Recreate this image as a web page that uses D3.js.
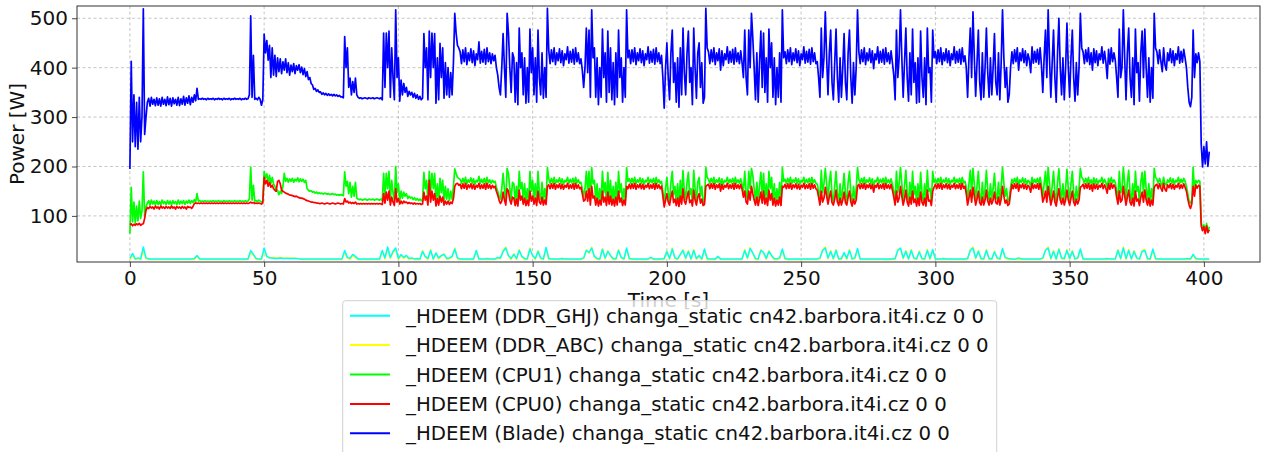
<!DOCTYPE html>
<html>
<head>
<meta charset="utf-8">
<script src="https://cdn.jsdelivr.net/npm/d3@7/dist/d3.min.js"></script>
<style>
body { margin: 0; background: #fff; }
text { font-family: "DejaVu Sans", sans-serif; }
</style>
</head>
<body>
<script>
// HDEEM power readings. blade / cpu sampled every 0.5 s, ddr every 1 s, all from t = 0 s
var bladeStep = 0.5;
var ddrStep = 1;

// each row = 10 s
var blade = [
  195, 413, 250, 345, 240, 330, 235, 340, 250, 300, 519, 265, 300, 330, 338, 322, 340, 326, 336, 323,
  339, 324, 337, 322, 340, 326, 336, 323, 341, 325, 338, 322, 339, 327, 336, 324, 340, 323, 337, 326,
  342, 324, 339, 328, 343, 325, 340, 330, 345, 333, 358, 336, 337, 336, 338, 336, 337, 335, 338, 336,
  337, 336, 338, 335, 337, 336, 338, 336, 337, 335, 338, 336, 337, 336, 338, 335, 337, 336, 338, 336,
  337, 336, 338, 335, 337, 336, 338, 336, 337, 345, 505, 340, 425, 336, 338, 335, 340, 336, 324, 335,
  468, 430, 455, 415, 445, 380, 440, 385, 425, 382, 420, 392, 418, 388, 412, 395, 418, 390, 410, 385,
  405, 392, 408, 388, 404, 395, 406, 390, 401, 386, 398, 382, 392, 376, 380, 368, 365, 356, 358, 352,
  355, 350, 351, 346, 349, 345, 348, 344, 347, 344, 346, 343, 346, 343, 345, 342, 344, 341, 341, 339,
  463, 400, 440, 360, 379, 345, 372, 350, 379, 345, 340, 338, 339, 337, 338, 339, 338, 337, 339, 338,
  338, 339, 337, 338, 339, 338, 337, 339, 335, 470, 360, 470, 400, 474, 340, 440, 380, 335, 517, 380,
  420, 332, 375, 345, 368, 350, 360, 342, 352, 345, 350, 340, 348, 338, 345, 336, 342, 335, 338, 469,
  400, 440, 335, 474, 380, 470, 400, 469, 328, 420, 335, 449, 380, 440, 338, 410, 345, 400, 340, 390,
  345, 410, 510, 470, 445, 440, 432, 408, 436, 412, 440, 406, 430, 414, 438, 410, 434, 404, 428, 416,
  452, 409, 433, 411, 437, 407, 440, 412, 430, 408, 428, 414, 425, 400, 385, 360, 345, 400, 469, 400,
  340, 510, 470, 400, 350, 430, 420, 330, 410, 325, 480, 400, 430, 345, 420, 328, 400, 330, 478, 390,
  440, 345, 420, 330, 476, 380, 345, 430, 338, 400, 340, 520, 435, 408, 436, 412, 440, 406, 430, 414,
  438, 410, 434, 404, 428, 416, 442, 409, 433, 411, 437, 407, 440, 412, 430, 408, 418, 395, 360, 400,
  480, 390, 476, 340, 517, 420, 440, 340, 420, 325, 400, 340, 478, 380, 430, 330, 474, 350, 440, 335,
  410, 325, 430, 340, 476, 380, 420, 330, 400, 340, 517, 420, 435, 408, 436, 412, 440, 406, 430, 414,
  438, 410, 434, 404, 428, 416, 442, 409, 433, 411, 437, 407, 440, 412, 430, 408, 425, 380, 318, 400,
  450, 380, 335, 430, 476, 370, 410, 330, 420, 320, 440, 345, 480, 390, 345, 430, 474, 370, 400, 325,
  480, 400, 338, 430, 450, 360, 410, 328, 340, 520, 440, 432, 408, 436, 412, 440, 406, 430, 414, 438,
  395, 434, 404, 428, 416, 442, 409, 433, 411, 437, 407, 440, 412, 430, 408, 434, 410, 380, 476, 380,
  345, 476, 400, 510, 460, 400, 335, 430, 330, 410, 474, 360, 470, 350, 420, 330, 478, 400, 450, 340,
  420, 325, 400, 340, 430, 330, 517, 420, 432, 408, 436, 412, 440, 406, 430, 414, 438, 410, 434, 404,
  428, 416, 442, 409, 433, 411, 437, 407, 440, 412, 430, 408, 412, 380, 340, 480, 380, 420, 513, 420,
  345, 430, 476, 370, 335, 410, 478, 380, 330, 420, 340, 400, 469, 370, 335, 430, 476, 380, 328, 410,
  345, 400, 517, 432, 408, 436, 412, 440, 406, 430, 414, 438, 410, 434, 398, 428, 416, 442, 409, 433,
  411, 437, 407, 440, 412, 430, 408, 434, 410, 385, 335, 476, 380, 420, 517, 420, 340, 410, 480, 380,
  332, 430, 345, 478, 370, 410, 328, 420, 330, 474, 380, 340, 420, 325, 480, 390, 400, 330, 476, 420,
  432, 408, 436, 412, 440, 406, 430, 414, 438, 410, 434, 404, 428, 416, 442, 409, 433, 411, 437, 407,
  440, 412, 424, 400, 340, 420, 480, 380, 513, 420, 342, 410, 476, 370, 335, 430, 340, 400, 480, 390,
  340, 420, 345, 400, 469, 370, 345, 430, 335, 410, 517, 420, 360, 400, 330, 345, 400, 432, 408, 436,
  412, 440, 395, 430, 414, 438, 410, 434, 404, 428, 416, 390, 442, 409, 433, 411, 437, 407, 440, 405,
  350, 420, 476, 380, 517, 420, 340, 410, 476, 380, 330, 430, 500, 400, 345, 420, 335, 400, 490, 400,
  340, 420, 476, 380, 332, 410, 345, 400, 510, 440, 432, 408, 436, 412, 440, 406, 430, 395, 438, 410,
  434, 404, 428, 416, 442, 409, 433, 411, 378, 437, 407, 440, 412, 430, 415, 380, 340, 478, 380, 400,
  517, 420, 335, 430, 480, 380, 340, 420, 325, 478, 390, 410, 332, 430, 474, 380, 478, 400, 340, 420,
  330, 400, 338, 510, 440, 432, 408, 436, 412, 392, 440, 406, 395, 430, 414, 438, 410, 434, 404, 428,
  416, 442, 409, 433, 411, 437, 420, 400, 360, 330, 321, 340, 476, 380, 428, 410, 430, 412, 246, 199,
  240, 205, 250, 200, 230
];

var cpu1 = [
  64, 158, 88, 128, 85, 120, 90, 130, 95, 110, 189, 100, 118, 126, 131, 122, 132, 124, 130, 122,
  131, 123, 129, 122, 132, 125, 129, 123, 131, 124, 130, 122, 131, 125, 129, 123, 132, 124, 130, 125,
  131, 123, 130, 126, 132, 125, 131, 127, 133, 128, 145, 130, 131, 129, 130, 129, 131, 129, 130, 129,
  130, 129, 131, 129, 130, 129, 131, 129, 130, 128, 131, 129, 130, 129, 131, 129, 130, 129, 131, 129,
  130, 129, 131, 129, 130, 129, 131, 129, 130, 135, 199, 132, 162, 130, 131, 129, 132, 130, 128, 130,
  190, 176, 185, 168, 182, 166, 178, 165, 160, 150, 152, 143, 150, 145, 160, 186, 170, 176, 168, 175,
  170, 176, 168, 174, 171, 177, 169, 175, 170, 174, 168, 172, 155, 152, 150, 151, 148, 149, 146, 148,
  145, 147, 145, 146, 144, 146, 145, 144, 145, 143, 144, 145, 143, 144, 142, 143, 142, 143, 142, 141,
  189, 160, 170, 145, 168, 138, 160, 140, 168, 136, 134, 133, 134, 132, 133, 134, 133, 132, 134, 133,
  133, 134, 132, 133, 134, 133, 132, 134, 131, 186, 140, 186, 155, 190, 131, 172, 147, 130, 200, 147,
  165, 130, 150, 136, 148, 140, 145, 135, 140, 136, 138, 133, 137, 132, 135, 131, 134, 131, 132, 188,
  155, 172, 130, 190, 147, 186, 155, 186, 127, 165, 130, 176, 147, 172, 130, 160, 134, 155, 131, 150,
  134, 160, 195, 186, 178, 176, 174, 166, 176, 167, 178, 165, 173, 168, 177, 166, 175, 164, 172, 169,
  180, 166, 174, 167, 176, 165, 178, 167, 173, 166, 172, 168, 170, 158, 150, 140, 134, 155, 186, 155,
  131, 196, 186, 155, 134, 168, 165, 128, 160, 126, 190, 155, 168, 134, 165, 127, 155, 128, 190, 150,
  172, 134, 165, 128, 190, 147, 134, 168, 130, 155, 131, 198, 175, 166, 176, 167, 178, 165, 173, 168,
  177, 166, 175, 164, 172, 169, 178, 166, 174, 167, 176, 165, 178, 167, 173, 166, 168, 155, 140, 155,
  190, 150, 190, 131, 198, 165, 172, 131, 165, 126, 155, 131, 190, 147, 168, 128, 188, 134, 172, 130,
  160, 126, 168, 131, 190, 147, 165, 128, 155, 131, 198, 170, 175, 166, 176, 167, 178, 165, 173, 168,
  177, 166, 175, 164, 172, 169, 178, 166, 174, 167, 176, 165, 178, 167, 173, 166, 170, 150, 124, 155,
  178, 147, 130, 168, 190, 143, 160, 128, 165, 124, 172, 134, 192, 150, 134, 168, 188, 143, 155, 126,
  192, 155, 130, 168, 178, 140, 160, 127, 131, 198, 178, 174, 166, 176, 167, 178, 165, 173, 168, 177,
  162, 175, 164, 172, 169, 178, 166, 174, 167, 176, 165, 178, 167, 173, 166, 175, 164, 150, 190, 147,
  134, 190, 155, 196, 182, 155, 130, 168, 128, 160, 188, 140, 186, 134, 165, 128, 190, 155, 178, 131,
  165, 126, 155, 131, 168, 128, 198, 170, 174, 166, 176, 167, 178, 165, 173, 168, 177, 166, 175, 164,
  172, 169, 178, 166, 174, 167, 176, 165, 178, 167, 173, 166, 164, 150, 131, 192, 147, 165, 196, 165,
  134, 168, 190, 143, 130, 160, 190, 147, 128, 165, 131, 155, 186, 143, 130, 168, 190, 147, 127, 160,
  134, 155, 198, 174, 166, 176, 167, 178, 165, 173, 168, 177, 166, 175, 160, 172, 169, 178, 166, 174,
  167, 176, 165, 178, 167, 173, 166, 175, 164, 150, 130, 190, 147, 165, 198, 165, 131, 160, 192, 147,
  128, 168, 134, 190, 143, 160, 127, 165, 128, 188, 147, 131, 165, 126, 192, 150, 155, 128, 190, 168,
  174, 166, 176, 167, 178, 165, 173, 168, 177, 166, 175, 164, 172, 169, 178, 166, 174, 167, 176, 165,
  178, 167, 170, 158, 131, 165, 192, 147, 196, 165, 131, 160, 190, 143, 130, 168, 131, 155, 192, 150,
  131, 165, 134, 155, 186, 143, 134, 168, 130, 160, 198, 165, 140, 155, 128, 134, 158, 174, 166, 176,
  167, 178, 162, 173, 168, 177, 166, 175, 164, 172, 169, 160, 178, 166, 174, 167, 176, 165, 178, 164,
  138, 165, 190, 147, 198, 165, 131, 160, 190, 147, 128, 168, 195, 155, 134, 165, 130, 155, 194, 155,
  131, 165, 190, 147, 128, 160, 134, 155, 196, 178, 174, 166, 176, 167, 178, 165, 173, 162, 177, 166,
  175, 164, 172, 169, 178, 166, 174, 167, 158, 176, 165, 178, 167, 173, 168, 150, 131, 190, 147, 155,
  198, 165, 130, 168, 192, 147, 131, 165, 126, 190, 150, 160, 128, 168, 188, 147, 190, 155, 131, 165,
  128, 155, 130, 196, 178, 174, 166, 176, 167, 160, 178, 165, 162, 173, 168, 177, 166, 175, 164, 172,
  169, 178, 166, 174, 167, 176, 170, 160, 145, 130, 125, 133, 199, 150, 172, 167, 172, 170, 88, 72,
  82, 66, 85, 68, 78
];

var cpu0 = [
  82, 84, 80, 83, 81, 84, 82, 85, 81, 83, 84, 95, 112, 117, 115, 119, 116, 118, 114, 120,
  116, 118, 114, 120, 116, 118, 115, 119, 116, 118, 115, 120, 116, 118, 114, 119, 116, 118, 115, 119,
  116, 118, 114, 119, 117, 118, 115, 119, 125, 126, 125, 126, 125, 126, 125, 126, 125, 126, 125, 126,
  125, 126, 125, 126, 125, 126, 125, 126, 125, 126, 125, 126, 125, 126, 125, 126, 125, 126, 125, 126,
  125, 126, 125, 126, 125, 126, 125, 126, 125, 126, 128, 126, 127, 125, 126, 125, 126, 125, 124, 126,
  178, 165, 172, 160, 168, 158, 162, 155, 152, 150, 170, 172, 165, 152, 150, 148, 146, 145, 144, 142,
  142, 141, 140, 139, 140, 138, 137, 136, 136, 135, 134, 132, 131, 130, 129, 128, 128, 127, 127, 126,
  126, 125, 125, 126, 125, 124, 125, 126, 125, 124, 125, 126, 125, 124, 125, 126, 125, 124, 125, 124,
  135, 128, 130, 126, 128, 125, 127, 125, 128, 124, 125, 124, 125, 124, 125, 124, 125, 124, 125, 124,
  125, 124, 125, 124, 125, 124, 125, 124, 123, 145, 126, 148, 132, 150, 122, 138, 128, 121, 155, 128,
  135, 124, 130, 125, 130, 127, 128, 125, 127, 125, 126, 124, 126, 124, 125, 124, 125, 123, 124, 148,
  132, 140, 122, 172, 128, 150, 132, 145, 120, 135, 122, 140, 128, 138, 122, 130, 124, 130, 123, 128,
  125, 135, 160, 165, 166, 162, 164, 155, 165, 156, 166, 154, 163, 157, 165, 155, 164, 154, 162, 158,
  166, 155, 163, 156, 165, 154, 166, 156, 163, 155, 162, 157, 160, 150, 142, 132, 125, 130, 148, 132,
  122, 155, 150, 132, 124, 138, 136, 121, 134, 120, 152, 132, 140, 124, 136, 121, 132, 121, 150, 130,
  140, 124, 136, 121, 150, 128, 124, 138, 122, 132, 123, 160, 163, 155, 165, 156, 166, 154, 163, 157,
  165, 155, 164, 154, 162, 158, 166, 155, 163, 156, 165, 154, 166, 156, 163, 155, 158, 145, 130, 132,
  150, 130, 155, 122, 160, 136, 140, 122, 136, 120, 132, 122, 150, 128, 138, 121, 148, 124, 140, 122,
  134, 120, 138, 122, 150, 128, 136, 121, 132, 122, 160, 155, 164, 155, 165, 156, 166, 154, 163, 157,
  165, 155, 164, 154, 162, 158, 166, 155, 163, 156, 165, 154, 166, 156, 163, 155, 160, 140, 118, 132,
  145, 128, 122, 138, 150, 127, 134, 121, 136, 119, 140, 124, 155, 130, 124, 138, 150, 127, 132, 120,
  152, 132, 122, 138, 145, 126, 134, 121, 123, 160, 162, 164, 155, 165, 156, 166, 154, 163, 157, 165,
  150, 164, 154, 162, 158, 166, 155, 163, 156, 165, 154, 166, 156, 163, 155, 164, 154, 138, 150, 128,
  124, 150, 132, 160, 145, 132, 122, 138, 121, 134, 148, 126, 150, 124, 136, 121, 152, 132, 145, 122,
  136, 120, 132, 122, 138, 121, 160, 158, 164, 155, 165, 156, 166, 154, 163, 157, 165, 155, 164, 154,
  162, 158, 166, 155, 163, 156, 165, 154, 166, 156, 163, 155, 152, 138, 122, 150, 128, 136, 158, 140,
  124, 138, 150, 127, 122, 134, 152, 128, 121, 136, 122, 132, 148, 127, 122, 138, 150, 128, 120, 134,
  124, 132, 160, 164, 155, 165, 156, 166, 154, 163, 157, 165, 155, 164, 148, 162, 158, 166, 155, 163,
  156, 165, 154, 166, 156, 163, 155, 164, 152, 138, 122, 150, 128, 136, 160, 140, 122, 134, 152, 128,
  120, 138, 124, 150, 127, 134, 120, 136, 121, 148, 128, 122, 136, 120, 152, 130, 132, 121, 150, 158,
  164, 155, 165, 156, 166, 154, 163, 157, 165, 155, 164, 154, 162, 158, 166, 155, 163, 156, 165, 154,
  166, 156, 160, 145, 122, 136, 152, 128, 158, 140, 122, 134, 150, 127, 122, 138, 122, 132, 152, 130,
  122, 136, 124, 132, 148, 127, 124, 138, 122, 134, 160, 140, 126, 132, 121, 124, 146, 164, 155, 165,
  156, 166, 150, 163, 157, 165, 155, 164, 154, 162, 158, 148, 166, 155, 163, 156, 165, 154, 166, 152,
  128, 136, 150, 128, 160, 140, 122, 134, 150, 128, 120, 138, 155, 132, 124, 136, 122, 132, 152, 132,
  122, 136, 150, 128, 121, 134, 124, 132, 158, 160, 164, 155, 165, 156, 166, 154, 163, 150, 165, 155,
  164, 154, 162, 158, 166, 155, 163, 156, 146, 165, 154, 166, 156, 163, 157, 138, 124, 150, 128, 132,
  160, 140, 122, 138, 152, 128, 122, 136, 120, 150, 130, 134, 121, 138, 148, 128, 152, 132, 122, 136,
  120, 132, 122, 158, 162, 164, 155, 165, 156, 150, 166, 154, 150, 163, 157, 165, 155, 164, 154, 162,
  158, 166, 155, 163, 156, 165, 158, 150, 135, 122, 115, 124, 160, 140, 163, 156, 162, 160, 80, 70,
  78, 64, 80, 66, 72
];

var ddrGHJ = [
  14, 24, 13, 15, 13, 37, 15, 13, 13, 13,
  13, 13, 13, 13, 13, 13, 13, 13, 13, 13,
  13, 13, 13, 13, 14, 20, 13, 13, 13, 13,
  13, 13, 13, 13, 13, 13, 13, 13, 13, 13,
  13, 13, 13, 13, 13, 30, 22, 14, 13, 13,
  35, 18, 15, 15, 14, 14, 15, 14, 14, 14,
  14, 14, 14, 13, 13, 13, 13, 13, 13, 13,
  13, 13, 13, 13, 13, 13, 13, 13, 13, 13,
  30, 16, 14, 22, 18, 13, 13, 13, 13, 13,
  13, 13, 13, 13, 30, 15, 37, 16, 28, 35,
  14, 22, 16, 20, 14, 15, 13, 14, 13, 28,
  18, 14, 30, 13, 25, 15, 20, 22, 14, 15,
  18, 33, 15, 13, 13, 13, 13, 13, 13, 30,
  13, 13, 13, 14, 13, 13, 13, 16, 15, 28,
  35, 20, 14, 22, 14, 30, 18, 14, 13, 33,
  20, 14, 28, 15, 13, 36, 14, 13, 13, 13,
  13, 14, 13, 13, 13, 13, 13, 13, 13, 15,
  30, 26, 35, 18, 14, 13, 32, 15, 28, 20,
  14, 13, 30, 16, 13, 35, 14, 13, 13, 13,
  13, 13, 13, 13, 16, 13, 13, 13, 13, 14,
  28, 14, 33, 15, 13, 22, 30, 15, 28, 13,
  30, 14, 20, 13, 33, 14, 13, 13, 13, 18,
  13, 13, 13, 13, 13, 13, 13, 13, 13, 30,
  15, 34, 25, 14, 13, 30, 26, 14, 28, 20,
  14, 13, 15, 33, 14, 13, 13, 13, 13, 13,
  13, 13, 13, 13, 13, 13, 13, 15, 30, 35,
  15, 28, 14, 30, 13, 14, 26, 14, 30, 13,
  15, 34, 13, 13, 13, 13, 13, 13, 13, 13,
  13, 13, 13, 13, 13, 14, 30, 35, 15, 28,
  13, 30, 15, 13, 27, 14, 13, 30, 14, 32,
  13, 13, 13, 14, 13, 13, 13, 13, 13, 13,
  13, 13, 14, 30, 35, 15, 28, 14, 13, 30,
  14, 13, 27, 15, 13, 34, 16, 14, 13, 13,
  13, 15, 13, 13, 13, 13, 13, 13, 13, 13,
  15, 30, 35, 14, 28, 13, 32, 15, 14, 30,
  14, 28, 13, 15, 33, 13, 13, 13, 13, 13,
  13, 13, 13, 13, 14, 13, 13, 13, 30, 14,
  35, 14, 30, 13, 28, 15, 13, 28, 30, 14,
  13, 33, 14, 13, 13, 13, 13, 13, 13, 13,
  13, 13, 13, 13, 14, 13, 22, 14, 13, 13,
  13, 13, 13
];

var ddrABC = [
  12, 20, 12, 13, 12, 30, 13, 12, 12, 12,
  12, 12, 12, 12, 12, 12, 12, 12, 12, 12,
  12, 12, 12, 12, 12, 18, 12, 12, 12, 12,
  12, 12, 12, 12, 12, 12, 12, 12, 12, 12,
  12, 12, 12, 12, 12, 26, 20, 12, 12, 12,
  30, 17, 16, 16, 16, 15, 16, 15, 15, 15,
  15, 15, 14, 13, 12, 12, 12, 12, 12, 12,
  12, 12, 12, 12, 12, 12, 12, 12, 12, 12,
  26, 14, 12, 20, 15, 12, 12, 12, 12, 12,
  12, 12, 12, 12, 28, 13, 34, 14, 26, 32,
  12, 20, 14, 18, 12, 13, 12, 12, 12, 30,
  16, 12, 32, 12, 24, 13, 18, 24, 12, 13,
  16, 35, 13, 12, 12, 12, 12, 12, 12, 27,
  12, 12, 12, 12, 12, 12, 12, 14, 13, 30,
  37, 18, 12, 24, 12, 32, 16, 12, 12, 35,
  18, 12, 30, 13, 12, 33, 12, 12, 12, 12,
  12, 12, 12, 12, 12, 12, 12, 12, 12, 13,
  32, 24, 37, 16, 12, 12, 34, 13, 30, 18,
  12, 12, 32, 14, 12, 32, 12, 12, 12, 12,
  12, 12, 12, 12, 14, 12, 12, 12, 12, 12,
  30, 12, 35, 13, 12, 20, 32, 13, 30, 12,
  32, 12, 18, 12, 30, 12, 12, 12, 12, 16,
  12, 12, 12, 12, 12, 12, 12, 12, 12, 32,
  13, 36, 23, 12, 12, 32, 24, 12, 30, 18,
  12, 12, 13, 30, 12, 12, 12, 12, 12, 12,
  12, 12, 12, 12, 12, 12, 12, 13, 32, 37,
  13, 30, 12, 32, 12, 12, 24, 12, 32, 12,
  13, 31, 12, 12, 12, 12, 12, 12, 12, 12,
  12, 12, 12, 12, 12, 12, 32, 33, 13, 30,
  12, 32, 13, 12, 29, 12, 12, 32, 12, 30,
  12, 12, 12, 12, 12, 12, 12, 12, 12, 12,
  12, 12, 12, 32, 37, 13, 30, 12, 12, 32,
  12, 12, 29, 13, 12, 32, 14, 12, 12, 12,
  12, 12, 12, 12, 12, 12, 12, 12, 12, 12,
  13, 32, 37, 12, 30, 12, 34, 13, 12, 32,
  12, 30, 12, 13, 31, 12, 12, 12, 12, 12,
  12, 12, 12, 12, 12, 12, 12, 12, 32, 12,
  37, 12, 32, 12, 30, 13, 12, 30, 32, 12,
  12, 31, 12, 12, 12, 12, 12, 12, 12, 12,
  12, 12, 12, 12, 12, 12, 20, 12, 12, 12,
  12, 12, 12
];

var xTicks = [0, 50, 100, 150, 200, 250, 300, 350, 400];
var yTicks = [100, 200, 300, 400, 500];

var legendLabels = [
  "_HDEEM (DDR_GHJ) changa_static cn42.barbora.it4i.cz 0 0",
  "_HDEEM (DDR_ABC) changa_static cn42.barbora.it4i.cz 0 0",
  "_HDEEM (CPU1) changa_static cn42.barbora.it4i.cz 0 0",
  "_HDEEM (CPU0) changa_static cn42.barbora.it4i.cz 0 0",
  "_HDEEM (Blade) changa_static cn42.barbora.it4i.cz 0 0"
];
var legendColors = ["#00ffff", "#ffff00", "#00ff00", "#ff0000", "#0000ff"];

var W = 1261, H = 452;
var plotL = 77, plotR = 1260, plotT = 6, plotB = 262;
var fontSize = 20;

var svg = d3.select("body").append("svg")
  .attr("width", W)
  .attr("height", H)
  .style("display", "block");

svg.append("rect").attr("width", W).attr("height", H).attr("fill", "#fff");

var x = d3.scaleLinear().domain([-19.7, 420.9]).range([plotL, plotR]);
var y = d3.scaleLinear().domain([6.7, 524.8]).range([plotB, plotT]);

// grid
var grid = svg.append("g");
grid.selectAll(".gx").data(xTicks).enter().append("line")
  .attr("x1", function(d){ return x(d); }).attr("x2", function(d){ return x(d); })
  .attr("y1", plotT).attr("y2", plotB)
  .attr("stroke", "#b8b8b8").attr("stroke-width", 0.8).attr("stroke-dasharray", "3,2.5");
grid.selectAll(".gy").data(yTicks).enter().append("line")
  .attr("x1", plotL).attr("x2", plotR)
  .attr("y1", function(d){ return y(d); }).attr("y2", function(d){ return y(d); })
  .attr("stroke", "#b8b8b8").attr("stroke-width", 0.8).attr("stroke-dasharray", "3,2.5");

// series, drawn so the cyan covers the yellow and the red sits over the green
var series = [
  {values: ddrABC, step: ddrStep, color: "#ffff00", w: 1.5},
  {values: ddrGHJ, step: ddrStep, color: "#00ffff", w: 1.5},
  {values: cpu1, step: bladeStep, color: "#00ff00", w: 1.7},
  {values: cpu0, step: bladeStep, color: "#ff0000", w: 1.7},
  {values: blade, step: bladeStep, color: "#0000ff", w: 1.7}
];

svg.append("defs").append("clipPath").attr("id", "plotclip")
  .append("rect").attr("x", plotL).attr("y", plotT)
  .attr("width", plotR - plotL).attr("height", plotB - plotT);

svg.append("g").attr("clip-path", "url(#plotclip)")
  .selectAll("path").data(series).enter().append("path")
  .attr("d", function(s){
    return d3.line()
      .x(function(d, i){ return x(i * s.step); })
      .y(function(d){ return y(d); })(s.values);
  })
  .attr("fill", "none")
  .attr("stroke", function(d){ return d.color; })
  .attr("stroke-width", function(d){ return d.w; })
  .attr("stroke-linejoin", "round");

// axes
var xAxis = svg.append("g").attr("transform", "translate(0," + plotB + ")")
  .call(d3.axisBottom(x).tickValues(xTicks).tickSize(5).tickPadding(4));
var yAxis = svg.append("g").attr("transform", "translate(" + plotL + ",0)")
  .call(d3.axisLeft(y).tickValues(yTicks).tickSize(5).tickPadding(4));

[xAxis, yAxis].forEach(function(a){
  a.select(".domain").remove();
  a.selectAll(".tick line").attr("stroke", "#333").attr("stroke-width", 0.9);
  a.selectAll(".tick text").attr("font-size", fontSize).attr("fill", "#111")
    .attr("font-family", "DejaVu Sans");
});

// frame
svg.append("rect")
  .attr("x", plotL).attr("y", plotT)
  .attr("width", plotR - plotL).attr("height", plotB - plotT)
  .attr("fill", "none").attr("stroke", "#333").attr("stroke-width", 1);

// axis labels (the legend is laid over the x label, as in the original figure)
svg.append("text")
  .attr("x", (plotL + plotR) / 2).attr("y", 307)
  .attr("text-anchor", "middle").attr("font-size", fontSize).attr("fill", "#111")
  .text("Time [s]");
svg.append("text")
  .attr("transform", "translate(24," + ((plotT + plotB) / 2) + ") rotate(-90)")
  .attr("text-anchor", "middle").attr("font-size", fontSize).attr("fill", "#111")
  .text("Power [W]");

// legend
var lgX = 342.7, lgY = 300.7, rowH = 29.4;
var legend = svg.append("g");
legend.append("rect")
  .attr("x", lgX).attr("y", lgY).attr("width", 654).attr("height", 170)
  .attr("rx", 3).attr("fill", "#fff").attr("fill-opacity", 0.8)
  .attr("stroke", "#d0d0d0").attr("stroke-width", 1);

var rows = legend.selectAll(".row").data(legendLabels).enter().append("g")
  .attr("transform", function(d, i){ return "translate(0," + (lgY + 15 + i * rowH) + ")"; });
rows.append("line")
  .attr("x1", 350).attr("x2", 390).attr("y1", 0).attr("y2", 0)
  .attr("stroke", function(d, i){ return legendColors[i]; })
  .attr("stroke-width", 2);
rows.append("text")
  .attr("x", 406).attr("y", 7)
  .attr("font-size", 19.75).attr("fill", "#111")
  .text(function(d){ return d; });
</script>
</body>
</html>
